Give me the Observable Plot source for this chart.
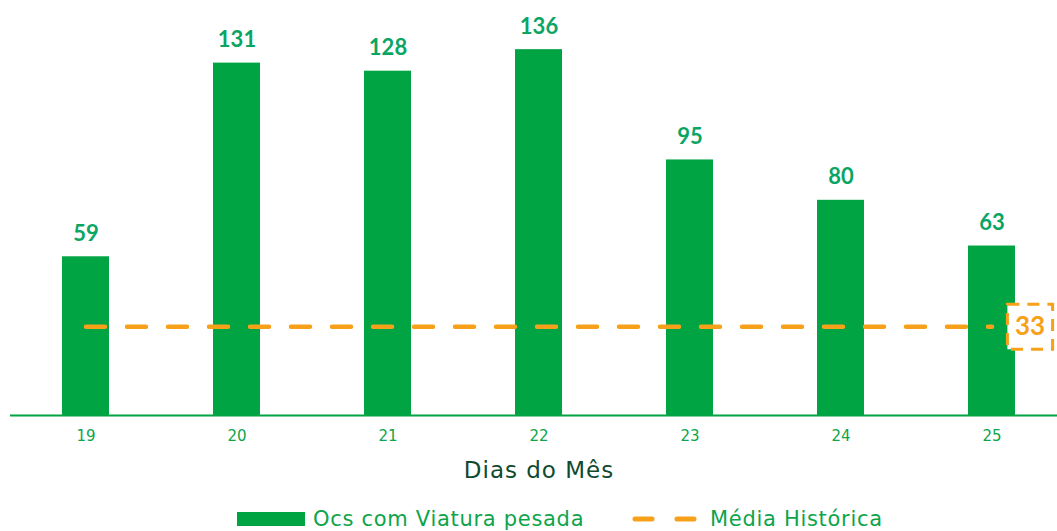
<!DOCTYPE html>
<html>
<head>
<meta charset="utf-8">
<script src="https://cdn.jsdelivr.net/npm/d3@7"></script>
<script src="https://cdn.jsdelivr.net/npm/@observablehq/plot@0.6"></script>
<style>
  html, body { margin: 0; padding: 0; background: #fff; }
  body { width: 1057px; height: 531px; overflow: hidden; font-family: "DejaVu Sans", sans-serif; }
  #legend { position: relative; height: 31px; }
  .item { position: absolute; top: 3px; display: flex; align-items: center; height: 31px; color: #0ea44a; font-size: 21px; letter-spacing: 0.7px; }
  .sw-bar { width: 68px; height: 14px; background: #00a443; margin-right: 8px; }
</style>
</head>
<body>
<div id="chart"></div>
<div id="legend">
  <div class="item" style="left:237px"><div class="sw-bar"></div><span>Ocs com Viatura pesada</span></div>
  <div class="item" style="left:630px"><svg width="72" height="14" style="margin-right:8px"><line x1="5" y1="7" x2="67" y2="7" stroke="#f7a11a" stroke-width="5" stroke-linecap="round" stroke-dasharray="17,25"/></svg><span>Média Histórica</span></div>
</div>
<script>
const days = ["19", "20", "21", "22", "23", "24", "25"];
const values = [59, 131, 128, 136, 95, 80, 63];
const mediaHistorica = 33;
const axisTitle = "Dias do Mês";

const data = days.map((d, i) => ({day: d, value: values[i], media: mediaHistorica}));
const green = "#00a443";
const labelGreen = "#0aa564";
const orange = "#f7a11a";

const chart = Plot.plot({
  width: 1057,
  height: 500,
  marginLeft: 10,
  marginRight: 0,
  marginTop: 11.5,
  marginBottom: 85,
  style: {fontFamily: "'DejaVu Sans', sans-serif", background: "#fff"},
  x: {domain: days, paddingInner: 0.69, paddingOuter: 0.264, insetLeft: 9, axis: null},
  y: {domain: [0, 150], axis: null},
  marks: [
    Plot.barY(data, {x: "day", y: "value", fill: green}),
    Plot.ruleY([0], {stroke: green, strokeWidth: 2}),
    Plot.text(data, {x: "day", y: "value", text: d => String(d.value), dy: -23, fill: labelGreen, fontWeight: "bold", fontSize: 22, fontFamily: "Lato"}),
    Plot.lineY(data, {x: "day", y: "media", stroke: orange, strokeWidth: 4.5, strokeDasharray: "19,22", strokeLinecap: "round"}),
    Plot.dot([{day: "25", media: mediaHistorica}], {x: "day", y: "media", dx: 38, symbol: "square", r: 25.5, fill: "white", stroke: orange, strokeWidth: 3, strokeDasharray: "12,8"}),
    Plot.text([{day: "25", media: mediaHistorica}], {x: "day", y: "media", dx: 38, text: d => String(d.media), fill: orange, fontWeight: "bold", fontSize: 26, fontFamily: "Lato"}),
    Plot.axisX({tickSize: 0, tickPadding: 15, fontSize: 15, color: "#0ea44a", label: null}),
    Plot.text([axisTitle], {frameAnchor: "bottom", dy: 62, dx: 5, fontSize: 23, fill: "#0f4a30"})
  ]
});
d3.select(chart).selectAll("text").filter(function() { return this.textContent === axisTitle; }).attr("letter-spacing", "1px");
document.getElementById("chart").appendChild(chart);
</script>
</body>
</html>
